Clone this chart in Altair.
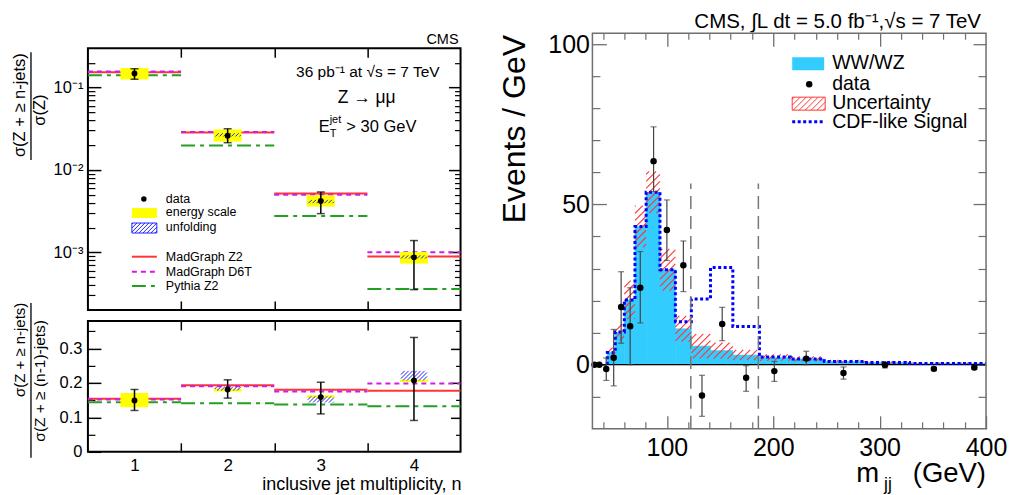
import math
import altair as alt
import pandas as pd

W, H = 1000, 487
FONT = "Liberation Sans"

# ---------------- data: left panels (Z + jets) ----------------
n_jets = [1, 2, 3, 4]
top_data = [0.148, 0.026, 0.0042, 0.00087]
top_err_lo = [0.126, 0.0214, 0.00295, 0.000353]
top_err_hi = [0.169, 0.0316, 0.0054, 0.00139]
top_escale_lo = [0.125, 0.0221, 0.00359, 0.00073]
top_escale_hi = [0.172, 0.0310, 0.00493, 0.00101]
top_unf_lo = [0.148, 0.0255, 0.00395, 0.00084]
top_unf_hi = [0.148, 0.0279, 0.00433, 0.00092]
top_mg_z2 = [0.153, 0.0285, 0.00516, 0.00089]
top_mg_d6t = [0.156, 0.0288, 0.00500, 0.00100]
top_py_z2 = [0.141, 0.0198, 0.00276, 0.000359]

rat_data = [0.149, 0.181, 0.159, 0.207]
rat_err_lo = [0.120, 0.156, 0.110, 0.091]
rat_err_hi = [0.181, 0.209, 0.202, 0.332]
rat_escale_lo = [0.129, 0.175, 0.157, 0.203]
rat_escale_hi = [0.171, 0.183, 0.164, 0.209]
rat_unf_lo = [0.149, 0.178, 0.143, 0.207]
rat_unf_hi = [0.149, 0.189, 0.161, 0.235]
rat_mg_z2 = [0.154, 0.193, 0.180, 0.177]
rat_mg_d6t = [0.152, 0.190, 0.175, 0.198]
rat_py_z2 = [0.144, 0.141, 0.137, 0.132]

# ---------------- data: right panel (m_jj) ----------------
mjj_edges = [44, 51.5, 60, 70, 80.5, 93.5, 108, 123, 141, 162, 187, 216, 248, 285, 328, 370, 400]
wwwz = [3.8, 10.2, 20.2, 43.1, 53.8, 29.6, 11.2, 5.8, 4.4, 3.0, 2.2, 1.8, 1.0, 0.7, 0.4, 0.4]
wwwz_unc = [1.5, 2.5, 6.0, 6.5, 6.5, 6.5, 4.0, 3.8, 2.5, 1.6, 1.0, 0.8, 0.5, 0.4, 0.3, 0.3]
cdf_total = [3.8, 10.2, 20.2, 43.1, 53.8, 29.6, 13.4, 20.5, 30.3, 11.9, 2.4, 1.8, 1.0, 0.7, 0.4, 0.4]
data_mjj = [32, 36.5, 43, 50, 57, 65.5, 75, 87.5, 100, 115.5, 133, 152, 174.5, 201, 231, 266, 305, 351, 389]
data_val = [0, 0, -1.35, 2.2, 18, 12, 24, 63.5, 42, 31, -9.6, 12.7, -4.1, -2, 1.9, -2.6, -0.1, -1.3, -0.9]
data_lo = [0, 0, -4.9, -6.6, 6.7, 0, 13, 54, 32.5, 22.8, -16.1, 7.5, -8.3, -5.2, 0, -4.5, -1.0, -1.8, -1.5]
data_hi = [0, 0, 2.1, 11, 29, 24, 35.3, 74.2, 51.4, 38.6, -3.3, 17.9, -0.3, 1.0, 4.2, -0.7, 0.8, -0.8, -0.3]
window_lines = [122.5, 186]
window_span = [-20, 56.5]

# ---------------- layout geometry (pixels inside the chart) ----------------
LX = (80, 453)
TL_Y = (302, 40)
BL_Y = (444, 313)
R_X = (585, 979)
R_Y = (421, 25)
X_L_DOM = [0.5, 4.5]
Y_TL_DOM = [2e-4, 0.3]
Y_BL_DOM = [0, 0.38]
X_R_DOM = [30, 400]
Y_R_DOM = [-20, 103.4]

GREY = "#6f6f6f"
RED = "#ff3535"
MAG = "#d41ae8"
GRN = "#22a022"
YEL = "#ffff00"
BLUE_H = "#2020ff"
AZURE = "#33ccff"


def lin_scale(dom, rng):
    return alt.Scale(domain=list(dom), range=list(rng), nice=False, zero=False)


def log_scale(dom, rng):
    return alt.Scale(type="log", domain=list(dom), range=list(rng), nice=False)


xsL = lambda: lin_scale(X_L_DOM, LX)
ysTL = lambda: log_scale(Y_TL_DOM, TL_Y)
ysBL = lambda: lin_scale(Y_BL_DOM, BL_Y)
xsR = lambda: lin_scale(X_R_DOM, R_X)
ysR = lambda: lin_scale(Y_R_DOM, R_Y)


def lin_px(v, dom, rng):
    return rng[0] + (v - dom[0]) / (dom[1] - dom[0]) * (rng[1] - rng[0])


def lin_inv(p, dom, rng):
    return dom[0] + (p - rng[0]) / (rng[1] - rng[0]) * (dom[1] - dom[0])


def log_px(v, dom, rng):
    return lin_px(math.log10(v), [math.log10(dom[0]), math.log10(dom[1])], rng)


def log_inv(p, dom, rng):
    return 10 ** lin_inv(p, [math.log10(dom[0]), math.log10(dom[1])], rng)


def hatch_segments(px0, px1, py_top, py_bot, step):
    segs = []
    c = math.ceil((px0 + py_top) / step) * step
    while c < px1 + py_bot:
        xa = max(px0, c - py_bot)
        xb = min(px1, c - py_top)
        if xb - xa > 0.4:
            segs.append((xa, c - xa, xb, c - xb))
        c += step
    return segs


def hatch_df(rects, xpx, xinv, ypx, yinv, step):
    rows = []
    for (x0, x1, y0, y1) in rects:
        if y1 <= y0:
            continue
        for (xa, ya, xb, yb) in hatch_segments(xpx(x0), xpx(x1), ypx(y1), ypx(y0), step):
            rows.append({"xa": xinv(xa), "ya": yinv(ya), "xb": xinv(xb), "yb": yinv(yb)})
    return pd.DataFrame(rows)


ONE = [{"k": 0}]
layers = []


def side_axis(orient, values, edge, length, color, width, **label_kw):
    if orient == "left":
        off = -(edge + length)
    elif orient == "right":
        off = (edge - length) - W
    elif orient == "bottom":
        off = (edge - length) - H
    else:
        off = -(edge + length)
    kw = dict(orient=orient, values=values, offset=off, domain=False, grid=False, title=None,
              ticks=length > 0, tickSize=length, tickColor=color, tickWidth=width,
              labelFlush=False, labelOverlap=False)
    if label_kw:
        kw.update(labels=True, labelFont=FONT, labelColor="black", **label_kw)
    else:
        kw["labels"] = False
    return alt.Axis(**kw)


def axes_layer(xsc, ysc, xmid, ymid, xaxis, yaxis):
    df = pd.DataFrame({"ax": [xmid], "ay": [ymid]})
    return alt.Chart(df).mark_point(opacity=0).encode(
        x=alt.X("ax:Q", scale=xsc, axis=xaxis),
        y=alt.Y("ay:Q", scale=ysc, axis=yaxis),
    )


def frame(xsc, ysc, xdom, ydom, color, width):
    df = pd.DataFrame({"x0": [xdom[0]], "x1": [xdom[1]], "y0": [ydom[0]], "y1": [ydom[1]]})
    return alt.Chart(df).mark_rect(fill="transparent", stroke=color, strokeWidth=width).encode(
        x=alt.X("x0:Q", scale=xsc, axis=None), x2="x1:Q",
        y=alt.Y("y0:Q", scale=ysc, axis=None), y2="y1:Q")


def txt(s, x, y, size, align="left", baseline="alphabetic", angle=0, color="black"):
    return alt.Chart(alt.Data(values=ONE)).mark_text(
        text=s, x=x, y=y, fontSize=size, align=align, baseline=baseline, angle=angle,
        color=color, font=FONT)


def prule(x, y, x2=None, y2=None, color="black", width=1, dash=None):
    enc = dict(x=alt.value(x), y=alt.value(y))
    if x2 is not None:
        enc["x2"] = alt.value(x2)
    if y2 is not None:
        enc["y2"] = alt.value(y2)
    kw = dict(color=color, strokeWidth=width)
    if dash:
        kw["strokeDash"] = dash
    return alt.Chart(alt.Data(values=ONE)).mark_rule(**kw).encode(**enc)


def prect(x, y, x2, y2, fill="transparent", stroke=None, width=1):
    kw = dict(fill=fill)
    if stroke:
        kw.update(stroke=stroke, strokeWidth=width)
    return alt.Chart(alt.Data(values=ONE)).mark_rect(**kw).encode(
        x=alt.value(x), x2=alt.value(x2), y=alt.value(y), y2=alt.value(y2))


def pixel_hatch(x0, x1, y0, y1, step, color, width):
    segs = hatch_segments(x0, x1, y0, y1, step)
    df = pd.DataFrame(segs, columns=["xa", "ya", "xb", "yb"])
    return alt.Chart(df).mark_rule(color=color, strokeWidth=width).encode(
        x=alt.X("xa:Q", scale=None, axis=None), y=alt.Y("ya:Q", scale=None, axis=None),
        x2="xb:Q", y2="yb:Q")


# ======================= axes & frames =======================
tl_minor = [k * 10.0 ** e for e in (-4, -3, -2, -1) for k in range(2, 10)
            if Y_TL_DOM[0] < k * 10.0 ** e < Y_TL_DOM[1]]
bins_edges = [1.5, 2.5, 3.5]
tl_label = ("datum.value > 0.05 ? '10\u207b\u00b9' : (datum.value > 0.005 ? '10\u207b\u00b2' : '10\u207b\u00b3')")

# top-left
layers += [
    axes_layer(xsL(), ysTL(), 2.5, 0.01,
               side_axis("bottom", bins_edges, TL_Y[0], 9, "black", 1.5),
               side_axis("left", [1e-3, 1e-2, 1e-1], LX[0], 13, "black", 1.5,
                         labelExpr=tl_label, labelFontSize=16.5, labelPadding=5)),
    axes_layer(xsL(), ysTL(), 2.5, 0.01, None,
               side_axis("left", tl_minor, LX[0], 7, "black", 1.2)),
    axes_layer(xsL(), ysTL(), 2.5, 0.01,
               side_axis("top", bins_edges, TL_Y[1], 9, "black", 1.5),
               side_axis("right", [1e-3, 1e-2, 1e-1], LX[1], 12, "black", 1.5)),
    axes_layer(xsL(), ysTL(), 2.5, 0.01, None,
               side_axis("right", tl_minor, LX[1], 6, "black", 1.2)),
    frame(xsL(), ysTL(), X_L_DOM, Y_TL_DOM, "black", 2),
]
# bottom-left
layers += [
    axes_layer(xsL(), ysBL(), 2.5, 0.1,
               side_axis("bottom", bins_edges, BL_Y[0], 9, "black", 1.5),
               side_axis("left", [0, 0.1, 0.2, 0.3], LX[0], 13, "black", 1.5,
                         format="~g", labelFontSize=16.5, labelPadding=6)),
    axes_layer(xsL(), ysBL(), 2.5, 0.1,
               side_axis("bottom", n_jets, BL_Y[0], 0, "black", 1,
                         format="d", labelFontSize=17, labelPadding=6),
               side_axis("left", [0.05, 0.15, 0.25, 0.35], LX[0], 7, "black", 1.2)),
    axes_layer(xsL(), ysBL(), 2.5, 0.1,
               side_axis("top", bins_edges, BL_Y[1], 9, "black", 1.5),
               side_axis("right", [0.1, 0.2, 0.3], LX[1], 10, "black", 1.5)),
    axes_layer(xsL(), ysBL(), 2.5, 0.1, None,
               side_axis("right", [0.05, 0.15, 0.25, 0.35], LX[1], 5, "black", 1.2)),
    frame(xsL(), ysBL(), X_L_DOM, Y_BL_DOM, "black", 2),
]
# right
r_x_minor = [v for v in range(40, 400, 20) if v % 100 != 0]
r_y_minor = [v for v in range(-10, 100, 10) if v % 50 != 0]
layers += [
    axes_layer(xsR(), ysR(), 200, 50,
               side_axis("bottom", [100, 200, 300, 400], R_Y[0], 13, GREY, 1.3,
                         format="d", labelFontSize=25, labelPadding=7),
               side_axis("left", [0, 50, 100], R_X[0], 14, GREY, 1.3,
                         format="d", labelFontSize=25, labelPadding=3)),
    axes_layer(xsR(), ysR(), 200, 50,
               side_axis("bottom", r_x_minor, R_Y[0], 7, GREY, 1.2),
               side_axis("left", r_y_minor, R_X[0], 7.5, GREY, 1.2)),
    axes_layer(xsR(), ysR(), 200, 50,
               side_axis("top", [100, 200, 300], R_Y[1], 13, GREY, 1.3),
               side_axis("right", [0, 50, 100], R_X[1], 13, GREY, 1.3)),
    axes_layer(xsR(), ysR(), 200, 50,
               side_axis("top", r_x_minor, R_Y[1], 6, GREY, 1.2),
               side_axis("right", r_y_minor, R_X[1], 8, GREY, 1.2)),
]

# ======================= left panels content =======================
def left_content(ysc, ypx, yinv, data, elo, ehi, es_lo, es_hi, un_lo, un_hi, mg, d6, py, cap):
    out = []
    df = pd.DataFrame({"n": n_jets, "data": data, "elo": elo, "ehi": ehi,
                       "eslo": es_lo, "eshi": es_hi, "mg": mg, "d6": d6, "py": py})
    df["b0"] = df["n"] - 0.5
    df["b1"] = df["n"] + 0.5
    df["k0"] = df["n"] - 0.15
    df["k1"] = df["n"] + 0.15
    for field, color, dash in [("mg", RED, None), ("d6", MAG, [5, 4]), ("py", GRN, [14, 5, 4, 5])]:
        kw = dict(color=color, strokeWidth=2)
        if dash:
            kw["strokeDash"] = dash
        out.append(alt.Chart(df).mark_rule(**kw).encode(
            x=alt.X("b0:Q", scale=xsL(), axis=None), x2="b1:Q",
            y=alt.Y(f"{field}:Q", scale=ysc(), axis=None)))
    out.append(alt.Chart(df).mark_rect(color=YEL).encode(
        x=alt.X("k0:Q", scale=xsL(), axis=None), x2="k1:Q",
        y=alt.Y("eslo:Q", scale=ysc(), axis=None), y2="eshi:Q"))
    rects = [(n - 0.14, n + 0.14, lo, hi) for n, lo, hi in zip(n_jets, un_lo, un_hi)]
    hd = hatch_df(rects, lambda v: lin_px(v, X_L_DOM, LX), lambda p: lin_inv(p, X_L_DOM, LX),
                  ypx, yinv, 4)
    out.append(alt.Chart(hd).mark_rule(color=BLUE_H, strokeWidth=1).encode(
        x=alt.X("xa:Q", scale=xsL(), axis=None), x2="xb:Q",
        y=alt.Y("ya:Q", scale=ysc(), axis=None), y2="yb:Q"))
    out.append(alt.Chart(df).mark_rule(color="black", strokeWidth=1.5).encode(
        x=alt.X("n:Q", scale=xsL(), axis=None),
        y=alt.Y("elo:Q", scale=ysc(), axis=None), y2="ehi:Q"))
    for f in ["elo", "ehi"]:
        out.append(alt.Chart(df).mark_tick(orient="horizontal", thickness=1.5, color="black").encode(
            x=alt.X("n:Q", scale=xsL(), axis=None),
            y=alt.Y(f"{f}:Q", scale=ysc(), axis=None), size=alt.value(cap)))
    out.append(alt.Chart(df).mark_circle(color="black", opacity=1, size=34).encode(
        x=alt.X("n:Q", scale=xsL(), axis=None), y=alt.Y("data:Q", scale=ysc(), axis=None)))
    return out


layers += left_content(ysTL, lambda v: log_px(v, Y_TL_DOM, TL_Y), lambda p: log_inv(p, Y_TL_DOM, TL_Y),
                       top_data, top_err_lo, top_err_hi, top_escale_lo, top_escale_hi,
                       top_unf_lo, top_unf_hi, top_mg_z2, top_mg_d6t, top_py_z2, 8)
layers += left_content(ysBL, lambda v: lin_px(v, Y_BL_DOM, BL_Y), lambda p: lin_inv(p, Y_BL_DOM, BL_Y),
                       rat_data, rat_err_lo, rat_err_hi, rat_escale_lo, rat_escale_hi,
                       rat_unf_lo, rat_unf_hi, rat_mg_z2, rat_mg_d6t, rat_py_z2, 8)

# left legend
layers += [
    alt.Chart(alt.Data(values=ONE)).mark_circle(color="black", opacity=1, size=30).encode(
        x=alt.value(136), y=alt.value(191)),
    prect(124, 200, 149, 210, fill=YEL),
    pixel_hatch(124, 149, 215, 225, 4, BLUE_H, 1),
    prect(124, 215, 149, 225, stroke=BLUE_H, width=1),
    prule(124, 248.7, x2=149, color=RED, width=2),
    prule(124, 263.7, x2=149, color=MAG, width=2, dash=[5, 4]),
    prule(124, 278, x2=149, color=GRN, width=2, dash=[14, 5, 4, 5]),
    txt("data", 158, 194.5, 12.5),
    txt("energy scale", 158, 207.5, 12.5),
    txt("unfolding", 158, 222.7, 12.5),
    txt("MadGraph Z2", 158, 252.7, 12.5),
    txt("MadGraph D6T", 158, 267.7, 12.5),
    txt("Pythia Z2", 158, 282, 12.5),
]

# left annotations
layers += [
    txt("CMS", 451, 35.3, 14.5, align="right"),
    txt("36 pb\u207b\u00b9  at \u221as = 7 TeV", 432, 69.3, 15.5, align="right"),
    txt("Z \u2192 \u03bc\u03bc", 359, 95.3, 17.5, align="center"),
    txt("E", 311, 123.7, 16.5),
    txt("jet", 322, 114.7, 11),
    txt("T", 322, 128.7, 11),
    txt("> 30 GeV", 338.7, 123.7, 16.5),
    # y titles (fractions)
    txt("\u03c3(Z + \u2265 n-jets)", 12.5, 97, 16.5, align="center", baseline="middle", angle=270),
    prule(23, 44, y2=152, color="black", width=1.3),
    txt("\u03c3(Z)", 32, 102, 16.5, align="center", baseline="middle", angle=270),
    txt("\u03c3(Z + \u2265 n-jets)", 12.5, 342, 15, align="center", baseline="middle", angle=270),
    prule(23, 295, y2=450, color="black", width=1.3),
    txt("\u03c3(Z + \u2265 (n-1)-jets)", 32.5, 373, 15.5, align="center", baseline="middle", angle=270),
    txt("inclusive jet multiplicity, n", 454, 482, 18, align="right"),
]

# ======================= right panel content =======================
hist_df = pd.DataFrame({"lo": mjj_edges[:-1], "hi": mjj_edges[1:], "v": wwwz})
hist_df["base"] = 0.0
layers.append(alt.Chart(hist_df).mark_rect(color=AZURE, stroke=AZURE, strokeWidth=0.6).encode(
    x=alt.X("lo:Q", scale=xsR(), axis=None), x2="hi:Q",
    y=alt.Y("base:Q", scale=ysR(), axis=None), y2="v:Q"))

unc_rects = [(lo, hi, v - u, v + u) for lo, hi, v, u in zip(mjj_edges[:-1], mjj_edges[1:], wwwz, wwwz_unc)]
unc_h = hatch_df(unc_rects, lambda v: lin_px(v, X_R_DOM, R_X), lambda p: lin_inv(p, X_R_DOM, R_X),
                 lambda v: lin_px(v, Y_R_DOM, R_Y), lambda p: lin_inv(p, Y_R_DOM, R_Y), 7)
layers.append(alt.Chart(unc_h).mark_rule(color=RED, strokeWidth=1.1).encode(
    x=alt.X("xa:Q", scale=xsR(), axis=None), x2="xb:Q",
    y=alt.Y("ya:Q", scale=ysR(), axis=None), y2="yb:Q"))

zero_df = pd.DataFrame({"a": [X_R_DOM[0]], "b": [X_R_DOM[1]], "y": [0.0]})
layers.append(alt.Chart(zero_df).mark_rule(color="black", strokeWidth=1.2).encode(
    x=alt.X("a:Q", scale=xsR(), axis=None), x2="b:Q", y=alt.Y("y:Q", scale=ysR(), axis=None)))

step_x = [mjj_edges[0]] + mjj_edges
step_y = [0.0] + cdf_total + [cdf_total[-1]]
step_df = pd.DataFrame({"m": step_x, "v": step_y, "i": list(range(len(step_x)))})
layers.append(alt.Chart(step_df).mark_line(interpolate="step-after", color="#0000ff", strokeWidth=3,
                                           strokeDash=[3, 2.5]).encode(
    x=alt.X("m:Q", scale=xsR(), axis=None), y=alt.Y("v:Q", scale=ysR(), axis=None), order="i:Q"))

win_df = pd.DataFrame({"m": window_lines, "lo": [window_span[0]] * 2, "hi": [window_span[1]] * 2})
layers.append(alt.Chart(win_df).mark_rule(color="#777777", strokeWidth=1.5, strokeDash=[13, 7]).encode(
    x=alt.X("m:Q", scale=xsR(), axis=None),
    y=alt.Y("lo:Q", scale=ysR(), axis=None), y2="hi:Q"))

pts = pd.DataFrame({"m": data_mjj, "v": data_val, "lo": data_lo, "hi": data_hi})
layers.append(alt.Chart(pts).mark_rule(color="#444444", strokeWidth=1.2).encode(
    x=alt.X("m:Q", scale=xsR(), axis=None), y=alt.Y("lo:Q", scale=ysR(), axis=None), y2="hi:Q"))
for f in ["lo", "hi"]:
    layers.append(alt.Chart(pts).mark_tick(orient="horizontal", thickness=1.2, color="#444444").encode(
        x=alt.X("m:Q", scale=xsR(), axis=None), y=alt.Y(f"{f}:Q", scale=ysR(), axis=None),
        size=alt.value(6)))
layers.append(alt.Chart(pts).mark_circle(color="black", opacity=1, size=42).encode(
    x=alt.X("m:Q", scale=xsR(), axis=None), y=alt.Y("v:Q", scale=ysR(), axis=None)))

layers.append(frame(xsR(), ysR(), X_R_DOM, Y_R_DOM, GREY, 1.5))

# right legend + texts
layers += [
    prect(785, 49, 817, 62, fill=AZURE),
    alt.Chart(alt.Data(values=ONE)).mark_circle(color="black", opacity=1, size=42).encode(
        x=alt.value(802), y=alt.value(76)),
    pixel_hatch(785, 818, 89, 102, 6, RED, 1),
    prect(785, 89, 818, 102, stroke=RED, width=1),
    prule(785, 113.7, x2=817, color="#0000ff", width=3, dash=[3, 2.5]),
    txt("WW/WZ", 825, 61.3, 19.5),
    txt("data", 825, 81.5, 19.5),
    txt("Uncertainty", 825, 101, 19.5),
    txt("CDF-like Signal", 825, 120.3, 19.5),
    txt("CMS, \u222bL dt = 5.0 fb\u207b\u00b9,\u221as = 7 TeV", 974, 20, 20.5, align="right"),
    txt("Events / GeV", 508, 121, 32, align="center", baseline="middle", angle=270),
    txt("m", 849, 474.5, 27.5),
    txt("jj", 877, 482, 17.5),
    txt("(GeV)", 979, 474.5, 27.5, align="right"),
]

chart = alt.layer(*layers).resolve_scale(x="independent", y="independent").properties(
    width=W, height=H, autosize=alt.AutoSizeParams(type="none"), padding=0
).configure_view(stroke=None).configure_text(font=FONT)

chart.save("out.html", embed_options={"renderer": "svg", "actions": False})
